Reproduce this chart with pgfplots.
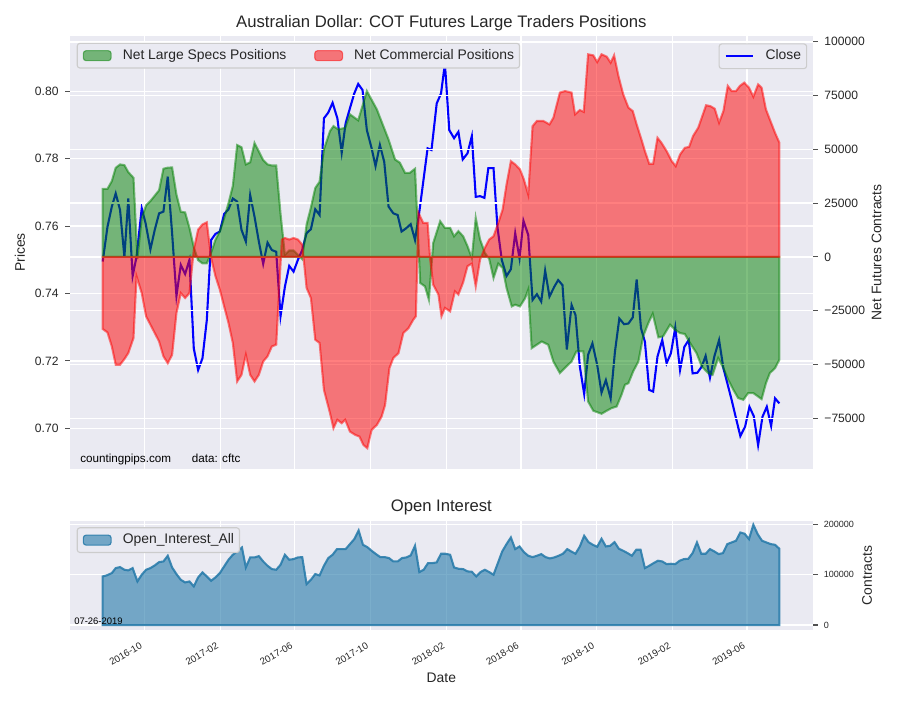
\documentclass[border=0pt]{standalone}
\usepackage{fontspec}
\setmainfont{Liberation Sans}
\usepackage{pgfplots}
\usepackage{pgfplotstable}
\pgfplotsset{compat=1.18}
\definecolor{bg}{HTML}{EAEAF2}
\definecolor{txt}{HTML}{262626}
\definecolor{oiblue}{RGB}{36,121,169}
\definecolor{lgframe}{HTML}{CCCCCC}

\pgfplotstableread{
w n
0 31660
1.1 31660
2.1 35230
3.0 41440
4.0 43000
5.0 42680
5.9 39420
7.1 36780
8.0 -1000
9.0 18000
10.0 24000
11.0 26000
12.0 28500
13.0 31000
14.0 41000
15.0 41500
16.0 41600
17.0 29000
18.0 21000
19.0 20700
20.0 13500
21.0 4500
22.0 -1500
23.0 -3000
24.0 -3000
25.0 2000
26.0 8000
27.0 12000
28.0 18000
29.0 25000
30.0 33000
31.0 52000
32.0 51000
33.0 43000
34.0 44000
35.0 53000
36.0 49000
37.0 45000
38.0 43000
39.0 42500
40.0 42500
41.0 20000
42.0 1000
43.0 3000
44.0 3000
45.0 1000
46.0 -1000
47.0 15000
48.0 23000
49.0 32000
50.0 35000
51.0 50000
52.4 58500
53.2 60800
54.3 59300
55.9 60000
57.0 66300
58.9 63500
60.9 77100
63.2 68600
64.7 60800
65.9 54600
67.4 45300
68.5 43800
69.7 39100
70.8 39100
72.0 41000
73.2 -12100
74.3 -13700
75.2 -19900
76.2 6500
77.8 16600
78.9 13500
80.1 13500
81.0 9600
82.0 12000
83.1 9600
84.1 5000
85.1 -500
86.0 18200
87.0 8100
88.1 1900
89.1 -900
90.1 -9800
91.2 -3100
92.2 -5100
93.1 -14400
94.3 -23000
95.1 -22200
96.2 -23000
97.4 -19100
98.1 -15200
98.9 -42400
100.1 -40800
101.2 -39300
102.7 -40800
103.9 -48600
105.4 -54000
106.9 -50900
108.1 -48600
109.2 -43900
110.8 -43900
111.9 -67200
113.1 -71500
115.0 -72900
116.2 -71500
117.3 -70300
118.5 -69500
119.6 -64100
120.4 -59400
121.2 -58700
122.3 -53200
123.5 -48600
124.6 -36900
125.8 -30700
126.8 -26400
128.1 -37400
129.2 -36900
130.8 -31500
131.9 -33800
133.1 -35400
134.2 -35800
135.4 -40000
136.9 -44700
138.1 -50900
139.6 -54000
140.6 -54800
141.9 -47000
143.1 -51700
144.2 -57100
145.4 -61800
146.5 -65600
147.7 -66400
148.8 -63300
150.0 -63300
151.1 -64900
151.9 -66100
152.9 -58700
153.8 -54000
155.0 -51700
156.0 -47800
}\specs

\pgfplotstableread{
w n
0 -33500
1.1 -35100
2.1 -41600
3.0 -50100
4.0 -50100
5.0 -47500
5.9 -44700
7.1 -37700
7.8 -9000
9.0 -16800
10.0 -27600
11.0 -31500
12.0 -35400
13.0 -39300
14.0 -46200
15.0 -49400
16.0 -45500
17.0 -26100
18.0 -16800
19.0 -19100
20.0 -16800
21.0 3400
22.0 12700
23.0 15100
24.0 16100
25.0 -500
26.0 -9000
27.0 -15200
28.0 -23000
29.0 -30700
30.0 -40000
31.0 -57900
32.0 -54800
33.0 -45500
34.0 -54800
35.0 -57900
36.0 -54800
37.0 -48600
38.0 -46200
39.0 -41600
40.0 -40800
41.3 8100
42.0 8800
43.0 8100
44.0 8800
45.0 8100
46.0 5700
47.0 -14400
48.0 -19100
49.0 -38500
50.0 -40000
51.0 -61800
52.4 -72600
53.2 -79600
54.1 -75700
55.1 -77300
55.9 -75700
57.0 -81200
58.2 -82700
59.2 -83500
60.1 -87400
61.0 -88900
62.0 -80400
63.2 -78100
64.3 -74200
65.1 -68800
66.1 -51700
67.0 -47000
68.2 -44700
69.3 -35400
70.5 -33100
71.6 -29200
72.2 -27600
72.8 20500
73.9 15800
74.9 15800
75.5 -1200
76.2 -12900
77.4 -17500
78.1 -27600
78.9 -23700
80.1 -25300
81.2 -16000
82.0 -17500
83.1 -11800
84.1 -4300
85.1 -3100
86.0 -13700
87.0 -1200
88.1 4200
89.1 8100
90.1 9600
91.2 15800
92.2 22000
93.1 33700
94.1 44500
95.1 43000
96.2 40700
97.1 36000
98.1 29000
99.1 60800
100.1 63200
101.6 63200
103.0 61600
103.9 64700
105.4 76400
106.6 77100
108.1 76400
108.9 66300
110.0 68300
110.9 67400
111.9 94200
113.1 93700
114.0 90600
115.0 94200
116.2 93100
117.1 90300
117.9 93700
118.9 84100
120.0 75600
121.2 69400
122.2 67800
123.1 61600
124.2 54600
125.0 49200
126.0 43300
126.9 43300
127.9 55400
128.8 53100
130.0 49200
131.2 44500
132.1 42200
133.1 47600
134.2 50700
135.2 51200
136.1 56200
137.3 60100
139.1 70500
140.1 70100
141.1 68900
142.1 62400
143.1 67800
144.1 79500
145.0 77100
146.0 77100
146.9 79500
147.9 81000
149.0 78700
150.0 74500
151.1 80200
151.9 78700
152.9 68600
153.8 63900
155.0 57700
156.0 53100
}\comm

\pgfplotstableread{
w p
0 0.7495
1.1 0.7598
2.1 0.7658
3.0 0.7697
4.0 0.7648
5.0 0.7509
5.9 0.7682
6.9 0.7452
7.8 0.7509
9.0 0.7653
9.9 0.7608
11.0 0.7531
12.0 0.7589
13.0 0.7638
14.0 0.7643
15.0 0.7747
16.0 0.7579
17.0 0.7393
18.0 0.7485
19.0 0.7458
20.0 0.7500
21.0 0.7237
22.0 0.7173
23.0 0.7208
24.0 0.7321
25.0 0.7559
26.0 0.7577
27.0 0.7584
28.0 0.7636
29.0 0.7650
30.0 0.7682
31.0 0.7673
32.0 0.7589
33.0 0.7554
34.0 0.7692
35.0 0.7628
36.0 0.7554
37.0 0.7488
38.0 0.7551
39.0 0.7529
40.0 0.7524
41.0 0.7333
42.0 0.7420
43.0 0.7482
44.0 0.7465
45.0 0.7500
46.0 0.7529
47.0 0.7579
48.0 0.7591
49.0 0.7650
50.0 0.7633
51.0 0.7920
52.0 0.7937
53.0 0.7966
54.1 0.7920
55.1 0.7818
56.0 0.7905
57.0 0.7950
58.0 0.7994
58.9 0.8022
59.9 0.8004
60.9 0.7885
62.0 0.7831
62.9 0.7778
63.9 0.7841
64.9 0.7791
65.9 0.7658
67.0 0.7638
68.0 0.7633
68.9 0.7584
69.9 0.7593
71.0 0.7606
72.0 0.7559
73.0 0.7643
73.9 0.7732
74.9 0.7831
75.8 0.7826
77.0 0.7964
78.0 0.7994
78.9 0.8083
79.9 0.7885
81.0 0.7861
82.0 0.7880
83.0 0.7798
84.1 0.7816
85.1 0.7867
86.0 0.7687
87.0 0.7689
88.0 0.7684
88.9 0.7772
90.1 0.7772
91.0 0.7598
92.0 0.7500
93.1 0.7452
94.1 0.7472
95.1 0.7579
96.1 0.7504
97.0 0.7616
98.1 0.7574
99.1 0.7381
100.1 0.7398
101.1 0.7376
102.0 0.7468
103.0 0.7391
104.1 0.7420
105.0 0.7440
106.0 0.7425
107.0 0.7234
108.1 0.7366
109.0 0.7336
110.0 0.7183
111.0 0.7102
111.9 0.7218
112.9 0.7252
114.0 0.7188
115.0 0.7106
116.0 0.7143
117.1 0.7089
118.1 0.7228
119.1 0.7326
120.2 0.7309
121.2 0.7311
122.2 0.7329
123.1 0.7442
124.1 0.7297
125.0 0.7257
126.0 0.7114
126.9 0.7109
127.9 0.7213
129.0 0.7262
130.0 0.7193
131.0 0.7223
132.0 0.7299
133.1 0.7173
134.1 0.7242
135.1 0.7262
136.0 0.7163
137.1 0.7165
138.1 0.7183
139.0 0.7215
140.0 0.7150
141.0 0.7213
142.1 0.7262
143.1 0.7178
144.1 0.7129
145.0 0.7084
146.0 0.7030
147.0 0.6977
148.1 0.7005
149.1 0.7064
150.1 0.7036
151.1 0.6950
152.1 0.7034
153.1 0.7064
154.1 0.7007
155.0 0.7089
156.0 0.7074
}\closep

\pgfplotstableread{
w oi
0 96700
0.9 98600
2.1 103300
3 113200
4 115200
5 109900
5.9 108600
6.9 113200
8 86700
9 100000
10 109900
11 113200
12 118500
13 125100
14 126400
15 137700
16 114500
17 101300
18 90000
19 84700
20 86700
21 76800
22 94700
23 104600
24 96700
25 88000
26 94700
27 103300
28 116500
29 129800
30 139700
31 146300
32.1 154200
33 114500
34 134400
35 134400
36 137000
37 126400
38 117800
39 111200
40 109900
41 119800
42 139700
43 129800
44 131100
45 134400
46 135000
47 81400
48 90000
49 101300
50 98600
51 117800
52 133100
53 139700
54 150900
55 150900
56 150900
57 160900
58 170800
59 188000
60 159500
61 154900
62 147600
63 141000
64 135000
65 135000
66 133100
67 126400
68 126400
69 133100
70 134400
71 138400
72 157600
73 105300
74 109900
75 123100
76 123100
77 124500
78 141700
79 141700
80.1 139700
81 114500
82 111900
83.1 111200
84.1 106600
85.1 105900
86.1 96700
87.1 105300
88.1 109900
89.1 105300
90.1 100000
91.1 123100
92.1 146300
93.1 160900
94.1 174100
95.1 150900
96.1 156200
97.1 145000
98.1 137700
99.1 135000
100.1 137700
101.1 141000
102.1 135000
103.1 132400
104.1 134400
105.1 137700
106.1 141700
107.1 150900
108 146300
109 141700
110 156200
111 177400
112 164800
113 159500
114 155600
115 171500
116 156200
117 157600
118 164800
119 151600
120 147600
121 143000
122 137700
123 149600
124 149600
125 113200
126 117800
127 123100
128 127800
129 126400
130 121100
131 121800
132 121100
133 127800
134 131100
135 131700
136 143000
137 164200
138 141700
139 141700
140 150900
141 146300
142 141000
143 143000
144 160900
145 164200
146 167500
147 184000
148 181400
149 170800
150 199300
151 180700
152 167500
153 164200
154 160900
155 159500
156 151600
}\oitable

\pgfplotsset{
  mybase/.style={
    scale only axis, width=534.7pt,
    xmin=-7.54, xmax=163.67,
    axis line style={draw=none},
    tick align=outside,
    major tick length=3.5pt,
    xtick style={draw=none},
    ytick style={color=txt!80, line width=0.8pt},
    grid style={white, line width=1pt},
    tick label style={color=txt},
    scaled x ticks=false, scaled y ticks=false,
    /pgf/number format/assume math mode=true,
    xtick={9.571,27.143,44.286,61.714,79.286,96.429,113.857,131.429,148.571},
    every axis title shift=0pt,
    title style={font=\fontsize{12}{14}\selectfont, color=txt, at={(axis description cs:0.5,1)}, anchor=base, yshift=6pt, inner sep=0pt},
    legend cell align=left,
    legend style={draw=lgframe, fill=bg, rounded corners=2pt, line width=0.8pt,
      inner xsep=4pt, inner ysep=4pt,
      font=\fontsize{10}{12}\selectfont, text=txt,
      nodes={inner sep=0pt, text height=7.4pt, text depth=2.4pt},
      /tikz/every odd column/.append style={column sep=8pt},
      /tikz/every even column/.append style={column sep=20pt}},
  },
  patchleg/.style={legend image code/.code={\draw[##1, line width=0.8pt] (0pt,-3.6pt) rectangle (20pt,3.6pt);}},
  lineleg/.style={legend image code/.code={\draw[##1] (0pt,0pt) -- (20pt,0pt);}},
}

\begin{document}
\begin{tikzpicture}
\path[use as bounding box] (0,0) rectangle (648pt,504pt);

% ---- top panel, left axis (Close) ----
\begin{axis}[mybase,
  at={(50.4pt,166.5pt)}, anchor=south west, height=311.5pt,
  ymin=0.688, ymax=0.8164,
  axis background/.style={fill=bg},
  xmajorgrids, ymajorgrids,
  xticklabels={},
  ytick={0.70,0.72,0.74,0.76,0.78,0.80},
  yticklabels={0.70,0.72,0.74,0.76,0.78,0.80},
  ytick pos=left,
  yticklabel style={font=\fontsize{8.7}{10}\selectfont, anchor=east, inner sep=0pt, xshift=-4.6pt},
  ylabel={Prices},
  every axis y label/.style={at={(axis description cs:-0.0673,0.5)}, anchor=center, rotate=90, font=\fontsize{10}{12}\selectfont, color=txt},
  title={Australian Dollar: COT Futures Large Traders Positions},
  legend style={at={(axis description cs:1,1)}, anchor=north east, xshift=-3.9pt, yshift=-5.2pt},
]
\addplot[blue, line width=1.5pt, lineleg] table[x=w, y=p] {\closep};
\addlegendentry{Close}
\end{axis}

% ---- top panel, right axis (net positions) ----
\begin{axis}[mybase,
  at={(50.4pt,166.5pt)}, anchor=south west, height=311.5pt,
  ymin=-98460, ymax=102650,
  ymajorgrids,
  xticklabels={},
  ytick={-75000,-50000,-25000,0,25000,50000,75000,100000},
  yticklabels={−75000,−50000,−25000,0,25000,50000,75000,100000},
  ytick pos=right,
  yticklabel style={font=\fontsize{8.7}{10}\selectfont, anchor=west, inner sep=0pt, xshift=4.8pt},
  ylabel={Net Futures Contracts},
  every axis y label/.style={at={(axis description cs:1.0862,0.5)}, anchor=center, rotate=90, font=\fontsize{10}{12}\selectfont, color=txt},
  legend columns=2,
  legend style={at={(axis description cs:0,1)}, anchor=north west, xshift=4.8pt, yshift=-4.8pt},
]
\addplot[patchleg, fill=green!50!black, fill opacity=0.5, draw=green!50!black, draw opacity=0.5, line width=1.5pt] table[x=w, y=n] {\specs} \closedcycle;
\addlegendentry{Net Large Specs Positions}
\addplot[patchleg, fill=red, fill opacity=0.5, draw=red, draw opacity=0.5, line width=1.5pt] table[x=w, y=n] {\comm} \closedcycle;
\addlegendentry{Net Commercial Positions}
\node[anchor=base west, inner sep=0pt, font=\fontsize{8.4}{10}\selectfont, text=black] at (axis description cs:0.0135,0.0139) {countingpips.com};
\node[anchor=base west, inner sep=0pt, font=\fontsize{8.4}{10}\selectfont, text=black] at (axis description cs:0.1638,0.0139) {data: cftc};
\end{axis}

% ---- bottom panel (open interest) ----
\begin{axis}[mybase,
  at={(50.4pt,50.4pt)}, anchor=south west, height=78.5pt,
  ymin=-9850, ymax=206850,
  axis background/.style={fill=bg},
  xmajorgrids, ymajorgrids,
  xticklabels={2016-10,2017-02,2017-06,2017-10,2018-02,2018-06,2018-10,2019-02,2019-06},
  xticklabel style={font=\fontsize{7}{8}\selectfont, inner sep=0pt, anchor=north east, xshift=-3.4pt, yshift=-4.9pt, rotate=30},
  ytick={0,100000,200000},
  yticklabels={0,100000,200000},
  ytick pos=right,
  yticklabel style={font=\fontsize{6.5}{8}\selectfont, anchor=west, inner sep=0pt, xshift=4.3pt},
  ylabel={Contracts},
  every axis y label/.style={at={(axis description cs:1.0734,0.5)}, anchor=center, rotate=90, font=\fontsize{10}{12}\selectfont, color=txt},
  xlabel={Date},
  every axis x label/.style={at={(axis description cs:0.5,-0.4835)}, anchor=base, font=\fontsize{10}{12}\selectfont, color=txt},
  title={Open Interest},
  title style={yshift=0.5pt},
  legend style={at={(axis description cs:0,1)}, anchor=north west, xshift=4.8pt, yshift=-4.5pt},
]
\addplot[patchleg, fill=oiblue, fill opacity=0.6, draw=oiblue, draw opacity=0.85, line width=1.5pt] table[x=w, y=oi] {\oitable} \closedcycle;
\addlegendentry{Open\_Interest\_All}
\node[anchor=base west, inner sep=0pt, font=\fontsize{6.8}{8}\selectfont, text=black] at (axis description cs:0.0054,0.052) {07-26-2019};
\end{axis}
\end{tikzpicture}
\end{document}
